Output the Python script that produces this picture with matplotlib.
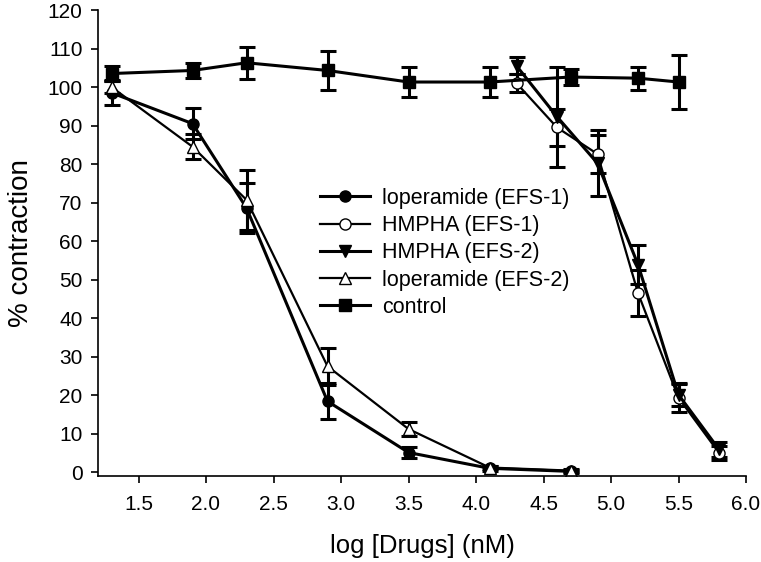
import numpy as np
import matplotlib
matplotlib.use("Agg")
import matplotlib.pyplot as plt

plt.rcParams['font.family'] = ['Liberation Sans', 'DejaVu Sans']

# log dose values
x_lop = [1.3, 1.9, 2.3, 2.9, 3.5, 4.1, 4.7]
x_hm = [4.3, 4.6, 4.9, 5.2, 5.5, 5.8]
x_ctrl = [1.3, 1.9, 2.3, 2.9, 3.5, 4.1, 4.7, 5.2, 5.5]

# % contraction and error
lop1 = [98.5, 90.5, 68.6, 18.4, 5.1, 1.0, 0.2]
lop1_err = [3.2, 4.0, 6.5, 4.7, 1.5, 0.6, 0.3]
lop2 = [100.0, 84.5, 70.7, 27.5, 11.2, 1.2, 0.4]
lop2_err = [1.5, 3.2, 7.8, 4.8, 1.9, 0.5, 0.3]
hm1 = [101.0, 89.5, 82.6, 46.5, 19.3, 5.0]
hm1_err = [2.4, 4.9, 5.0, 6.0, 3.6, 1.8]
hm2 = [105.5, 92.3, 80.2, 53.9, 20.1, 5.9]
hm2_err = [2.2, 13.0, 8.6, 5.0, 3.0, 2.0]
ctrl = [103.5, 104.3, 106.3, 104.3, 101.3, 101.3, 102.6, 102.3, 101.3]
ctrl_err = [1.9, 1.9, 4.1, 5.0, 4.0, 4.0, 2.0, 3.0, 7.0]

fig = plt.figure(figsize=(7.61, 5.62), dpi=100)
ax = fig.add_axes([98/761, 1-476/562, (746-98)/761, (476-10)/562])

kw = dict(color='black', ecolor='black', elinewidth=2.2, capsize=6, capthick=2.2, markersize=8)
h1 = ax.errorbar(x_lop, lop1, yerr=lop1_err, marker='o', lw=2.2, mfc='black', mec='black', **kw)
h2 = ax.errorbar(x_hm, hm1, yerr=hm1_err, marker='o', lw=1.6, mfc='white', mec='black', **kw)
h3 = ax.errorbar(x_hm, hm2, yerr=hm2_err, marker='v', lw=2.2, mfc='black', mec='black', **kw)
h4 = ax.errorbar(x_lop, lop2, yerr=lop2_err, marker='^', lw=1.6, mfc='white', mec='black', **kw)
h5 = ax.errorbar(x_ctrl, ctrl, yerr=ctrl_err, marker='s', lw=2.2, mfc='black', mec='black', **kw)

ax.set_xlim(1.2, 6.0)
ax.set_ylim(-1, 120)
ax.set_xticks(np.arange(1.5, 6.01, 0.5))
ax.set_xticklabels(['%.1f' % v for v in np.arange(1.5, 6.01, 0.5)])
ax.set_yticks(range(0, 121, 10))

ax.spines['top'].set_visible(False)
ax.spines['right'].set_visible(False)
ax.spines['left'].set_linewidth(1.2)
ax.spines['bottom'].set_linewidth(1.2)
ax.tick_params(direction='out', length=5, width=1.2, labelsize=15)
ax.tick_params(axis='y', pad=6)
ax.tick_params(axis='x', pad=9)

ax.set_xlabel('log [Drugs] (nM)', fontsize=18.5, labelpad=14)
ax.set_ylabel('% contraction', fontsize=20, labelpad=10)

handles = [h1[0], h2[0], h3[0], h4[0], h5[0]]
labels = ['loperamide (EFS-1)', 'HMPHA (EFS-1)', 'HMPHA (EFS-2)',
          'loperamide (EFS-2)', 'control']
fig.legend(handles, labels, loc='upper left', bbox_to_anchor=(320/761, 1-188/562),
           frameon=False, fontsize=15.5, handlelength=2.3, handletextpad=0.6,
           labelspacing=0.29, borderpad=0, borderaxespad=0)

fig.savefig('out.png', dpi=100)
